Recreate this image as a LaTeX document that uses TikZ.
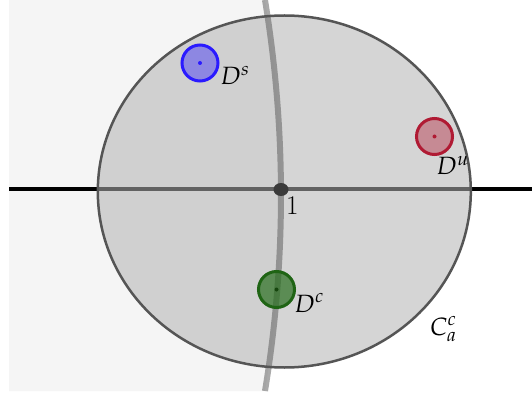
\documentclass[tikz,border=0pt]{standalone}
\usepackage{mathpazo}
\usetikzlibrary{shapes.geometric}
\begin{document}
\begin{tikzpicture}[x=1pt,y=-1pt,
  lbl/.style={anchor=base west,inner sep=0pt,font=\fontsize{25}{30}\selectfont},
  disk/.style={circle,minimum size=36pt,inner sep=0pt,line width=3pt},
  cdot/.style={circle,fill,minimum size=4pt,inner sep=0pt}]
\definecolor{bgl}{HTML}{F5F5F5}
\definecolor{cfill}{HTML}{B3B3B3}
\definecolor{cedge}{HTML}{555555}
\definecolor{bluec}{HTML}{2A1AFF}
\definecolor{redc}{HTML}{B01A33}
\definecolor{greenc}{HTML}{1F6414}
\definecolor{greenf}{HTML}{286E1E}
\definecolor{dotc}{HTML}{3A3A3A}
\useasboundingbox (0,0) rectangle (532,398);
\fill[white] (0,0) rectangle (532,398);
% left light region
\fill[bgl] (9,0) -- (265,0) .. controls (286.3,130.3) and (286.3,260.7) .. (265,391) -- (9,391) -- cycle;
% real axis
\coordinate (axl) at (9,189);
\coordinate (axr) at (532,189);
\draw[line width=3.5pt,black] (axl) -- (axr);
% big disk
\node[ellipse,draw=cedge,line width=2.5pt,fill=cfill,fill opacity=0.55,draw opacity=1,minimum width=373pt,minimum height=352pt,inner sep=0pt] (Ca) at (284.3,191.5) {};
% curve
\draw[line width=6pt,cedge,opacity=0.5] (265,0) .. controls (286.3,130.3) and (286.3,260.7) .. (265,391);
% point 1
\node[ellipse,fill=dotc,minimum width=15pt,minimum height=13pt,inner sep=0pt] (one) at (281,189.5) {};
\node[lbl,font=\fontsize{27}{32}\selectfont] (onelbl) at (286,214) {1};
% small disks
\node[disk,draw=bluec,fill=bluec,fill opacity=0.4,draw opacity=1] (Ds) at (200,63) {};
\node[cdot,fill=bluec] (Dsc) at (Ds.center) {};
\node[disk,draw=redc,fill=redc,fill opacity=0.4,draw opacity=1] (Du) at (434.5,136.5) {};
\node[cdot,fill=redc] (Duc) at (Du.center) {};
\node[disk,draw=greenc,fill=greenf,fill opacity=0.7,draw opacity=1] (Dc) at (276.5,289.5) {};
\node[cdot,fill=greenc!70!black] (Dcc) at (Dc.center) {};
% labels
\node[lbl] (Dslbl) at (220,85) {$D^s$};
\node[lbl] (Dulbl) at (436,175) {$D^u$};
\node[lbl] (Dclbl) at (294,312) {$D^c$};
\node[lbl] (Calbl) at (430,335) {$C_a^c$};
\end{tikzpicture}
\end{document}
